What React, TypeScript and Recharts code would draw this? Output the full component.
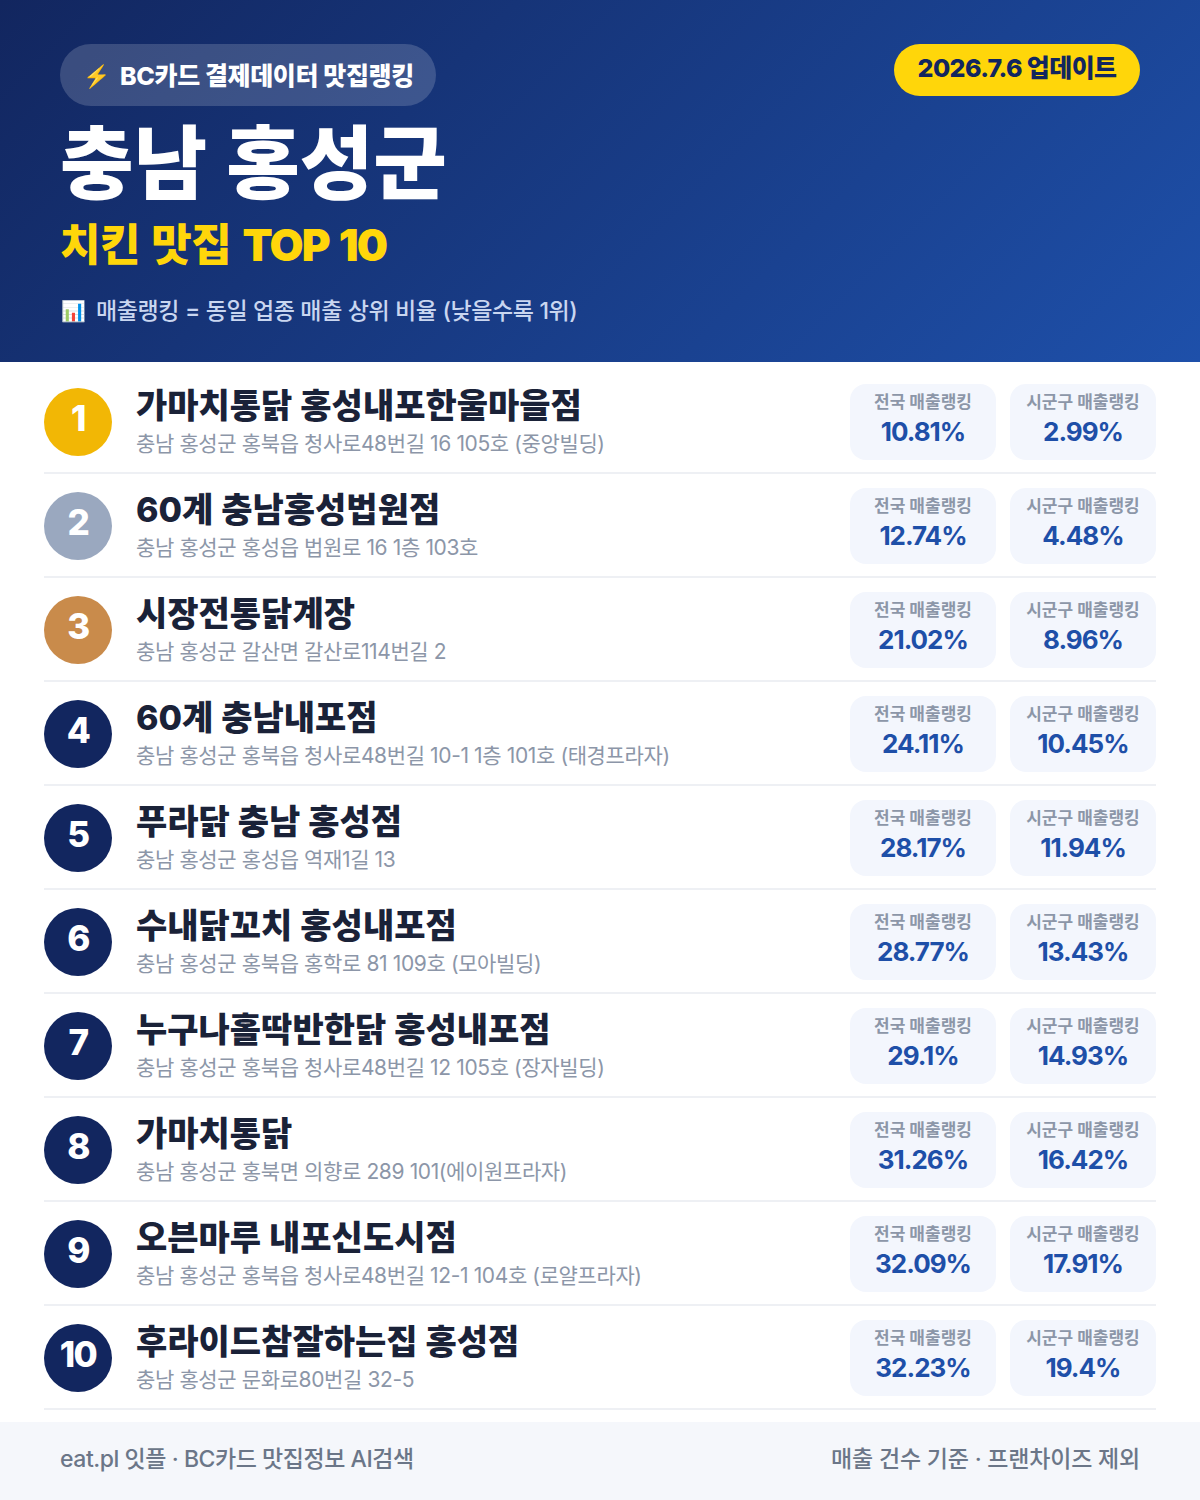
import React from "react";
import { BarChart, Bar, XAxis, YAxis } from "recharts";

const ranks = [1, 2, 3, 4, 5, 6, 7, 8, 9, 10];
const names = [
  "가마치통닭 홍성내포한울마을점",
  "60계 충남홍성법원점",
  "시장전통닭계장",
  "60계 충남내포점",
  "푸라닭 충남 홍성점",
  "수내닭꼬치 홍성내포점",
  "누구나홀딱반한닭 홍성내포점",
  "가마치통닭",
  "오븐마루 내포신도시점",
  "후라이드참잘하는집 홍성점",
];
const addresses = [
  "충남 홍성군 홍북읍 청사로48번길 16 105호 (중앙빌딩)",
  "충남 홍성군 홍성읍 법원로 16 1층 103호",
  "충남 홍성군 갈산면 갈산로114번길 2",
  "충남 홍성군 홍북읍 청사로48번길 10-1 1층 101호 (태경프라자)",
  "충남 홍성군 홍성읍 역재1길 13",
  "충남 홍성군 홍북읍 홍학로 81 109호 (모아빌딩)",
  "충남 홍성군 홍북읍 청사로48번길 12 105호 (장자빌딩)",
  "충남 홍성군 홍북면 의향로 289 101(에이원프라자)",
  "충남 홍성군 홍북읍 청사로48번길 12-1 104호 (로얄프라자)",
  "충남 홍성군 문화로80번길 32-5",
];
const nationalRank = [10.81, 12.74, 21.02, 24.11, 28.17, 28.77, 29.1, 31.26, 32.09, 32.23];
const localRank = [2.99, 4.48, 8.96, 10.45, 11.94, 13.43, 14.93, 16.42, 17.91, 19.4];
const rows = ranks.map((rank, i) => ({
  rank,
  name: names[i],
  address: addresses[i],
  national: nationalRank[i],
  local: localRank[i],
}));

const FONT = 'Inter, "Noto Sans CJK KR", sans-serif';
const badgeColors = ["#F2B705", "#9AA8BF", "#C98B4B"];
const navy = "#12265F";

function RowTick(props: any) {
  const { y, payload } = props;
  const i = ranks.indexOf(payload.value);
  return (
    <g fontFamily={FONT}>
      <circle cx={78} cy={y} r={34} fill={badgeColors[i] ?? navy} />
      <text x={78} y={y + 9} textAnchor="middle" fontSize={35} fontWeight={800} fill="#fff" letterSpacing={-1.5}>
        {ranks[i]}
      </text>
      <text x={136} y={y - 4} fontSize={34} fontWeight={800} fill="#1A2238" wordSpacing={0.5}>
        {names[i]}
      </text>
      <text x={136} y={y + 29} fontSize={21} fontWeight={400} fill="#8C96A8" letterSpacing={-0.38}>
        {addresses[i]}
      </text>
      <rect x={44} y={y + 50} width={1112} height={2} fill="#EEF0F4" />
    </g>
  );
}

function MetricCard(props: any, x: number, label: string, value: number) {
  const cy = props.y + props.height / 2;
  return (
    <g fontFamily={FONT}>
      <rect x={x} y={cy - 38} width={146} height={76} rx={16} fill="#F3F6FD" />
      <text x={x + 73} y={cy - 14} textAnchor="middle" fontSize={17} fontWeight={700} fill="#8C96A8">
        {label}
      </text>
      <text x={x + 73} y={cy + 19} textAnchor="middle" fontSize={26} fontWeight={700} fill="#1E4FA8" letterSpacing={-1}>
        {value}%
      </text>
    </g>
  );
}

const abs = (left: number, top: number, extra: React.CSSProperties = {}): React.CSSProperties => ({
  position: "absolute",
  left,
  top,
  whiteSpace: "nowrap",
  fontFamily: FONT,
  ...extra,
});

export default function App() {
  return (
    <div style={{ position: "absolute", left: 0, top: 0, width: 1200, height: 1500, background: "#fff", overflow: "hidden" }}>
      <div style={{ position: "absolute", left: 0, top: 0, width: 1200, height: 362, background: "linear-gradient(135deg, #12265F 0%, #1E50AA 100%)" }} />
      <div style={abs(60, 44, { width: 376, height: 62, borderRadius: 31, background: "rgba(255,255,255,0.17)" })} />
      <div style={abs(83, 58, { fontSize: 22, lineHeight: "36px", fontWeight: 700, color: "#fff" })}>⚡</div>
      <div style={abs(120, 58, { fontSize: 25, lineHeight: "36px", fontWeight: 800, color: "#fff", letterSpacing: -0.35 })}>BC카드 결제데이터 맛집랭킹</div>
      <div style={abs(894, 44, { width: 246, height: 52, borderRadius: 26, background: "#FFD60A", textAlign: "center", fontSize: 25, lineHeight: "48px", fontWeight: 800, color: "#12265F", letterSpacing: -0.6 })}>2026.7.6 업데이트</div>
      <div style={abs(60, 105, { fontSize: 80, lineHeight: "116px", fontWeight: 900, color: "#fff", wordSpacing: 3 })}>충남 홍성군</div>
      <div style={abs(60, 212, { fontSize: 44, lineHeight: "66px", fontWeight: 900, color: "#FFD60A", letterSpacing: -0.5, wordSpacing: 3 })}>
        치킨 맛집 <span style={{ letterSpacing: -1.8 }}>TOP 10</span>
      </div>
      <div style={abs(61, 294, { fontSize: 20, lineHeight: "34px", fontWeight: 400, color: "#C9D6F0" })}>📊</div>
      <div style={abs(96, 294, { fontSize: 23, lineHeight: "34px", fontWeight: 500, color: "#C9D6F0", letterSpacing: -0.37 })}>매출랭킹 = 동일 업종 매출 상위 비율 (낮을수록 1위)</div>
      <div style={{ position: "absolute", left: 0, top: 0 }}>
        <BarChart
          width={1200}
          height={1500}
          data={rows}
          layout="vertical"
          barCategoryGap={0}
          margin={{ top: 370, right: 0, bottom: 90, left: 0 }}
        >
          <XAxis type="number" hide domain={[0, 100]} />
          <YAxis type="category" dataKey="rank" width={1} axisLine={false} tickLine={false} interval={0} tick={RowTick} />
          <Bar dataKey="national" stackId="r" isAnimationActive={false} shape={(p: any) => MetricCard(p, 850, "전국 매출랭킹", p.payload.national)} />
          <Bar dataKey="local" stackId="r" isAnimationActive={false} shape={(p: any) => MetricCard(p, 1010, "시군구 매출랭킹", p.payload.local)} />
        </BarChart>
      </div>
      <div style={abs(0, 1422, { width: 1200, height: 78, background: "#F5F7FB" })} />
      <div style={abs(60, 1441, { fontSize: 23, lineHeight: "36px", fontWeight: 500, color: "#6B7688", letterSpacing: -0.45 })}>eat.pl 잇플 · BC카드 맛집정보 AI검색</div>
      <div style={abs(0, 1441, { left: "auto", right: 60, fontSize: 23, lineHeight: "36px", fontWeight: 500, color: "#6B7688", letterSpacing: -0.2 })}>매출 건수 기준 · 프랜차이즈 제외</div>
    </div>
  );
}
